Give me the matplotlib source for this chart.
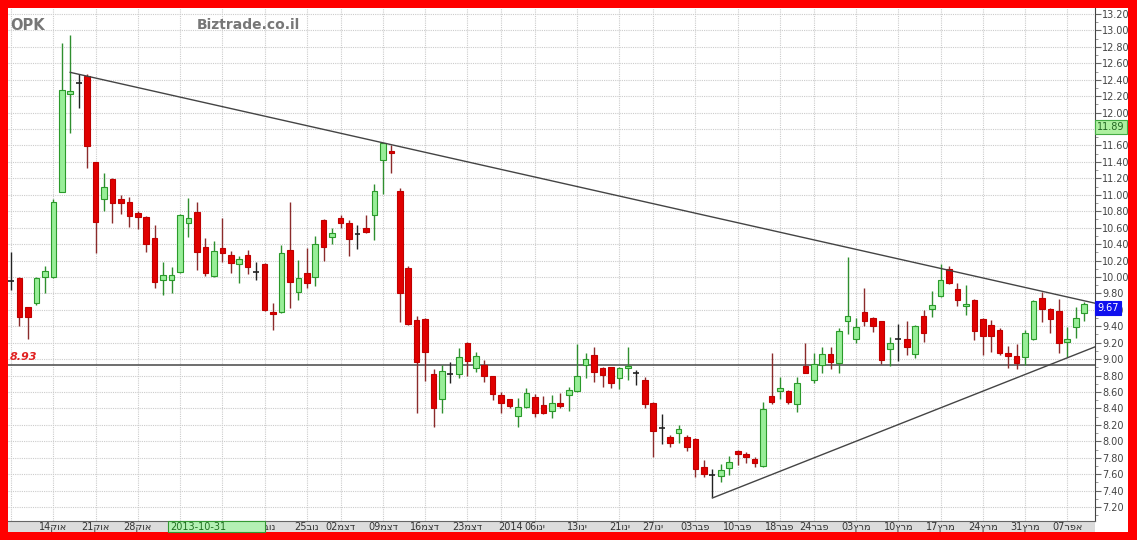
import numpy as np
import matplotlib
matplotlib.use("Agg")
import matplotlib.pyplot as plt
from matplotlib.patches import Rectangle

# OPK daily candles, 07 Oct 2013 .. 09 Apr 2014 (one entry per trading day)
opens = [9.95, 9.99, 9.63, 9.68, 10.00, 10.00, 11.03, 12.23, 12.36, 12.45,
         11.40, 10.95, 11.19, 10.95, 10.91, 10.78, 10.73, 10.47, 9.96, 9.96,
         10.06, 10.66, 10.79, 10.36, 10.01, 10.35, 10.27, 10.16, 10.27, 10.06,
         10.16, 9.57, 9.57, 10.33, 9.82, 10.05, 10.00, 10.69, 10.49, 10.72,
         10.66, 10.52, 10.60, 10.75, 11.42, 11.53, 11.05, 10.11, 9.48, 9.49,
         8.82, 8.51, 8.82, 8.82, 9.20, 8.89, 8.93, 8.79, 8.56, 8.51,
         8.31, 8.42, 8.54, 8.44, 8.37, 8.47, 8.56, 8.61, 8.93, 9.05,
         8.89, 8.90, 8.77, 8.89, 8.83, 8.75, 8.47, 8.16, 8.05, 8.10,
         8.05, 8.03, 7.69, 7.59, 7.58, 7.67, 7.88, 7.85, 7.78, 7.70,
         8.55, 8.61, 8.61, 8.45, 8.92, 8.75, 8.93, 9.06, 8.95, 9.46,
         9.24, 9.57, 9.50, 9.46, 9.12, 9.24, 9.24, 9.06, 9.52, 9.61,
         9.77, 10.10, 9.85, 9.65, 9.72, 9.49, 9.41, 9.36, 9.07, 9.04,
         9.03, 9.24, 9.74, 9.61, 9.58, 9.21, 9.39, 9.56]
highs = [10.30, 10.00, 9.64, 10.00, 10.13, 10.95, 12.85, 12.94, 12.47, 12.47,
         11.40, 11.27, 11.20, 11.00, 10.97, 10.80, 10.74, 10.63, 10.18, 10.12,
         10.77, 10.96, 10.91, 10.47, 10.44, 10.72, 10.31, 10.25, 10.33, 10.18,
         10.17, 9.68, 10.39, 10.91, 10.21, 10.35, 10.50, 10.71, 10.60, 10.75,
         10.69, 10.63, 10.75, 11.13, 11.63, 11.61, 11.08, 10.13, 9.52, 9.50,
         8.88, 8.93, 8.97, 9.13, 9.21, 9.09, 8.99, 8.80, 8.60, 8.52,
         8.53, 8.65, 8.57, 8.55, 8.56, 8.59, 8.66, 9.18, 9.07, 9.15,
         8.90, 8.91, 8.90, 9.15, 8.87, 8.78, 8.48, 8.33, 8.08, 8.20,
         8.08, 8.04, 7.77, 7.66, 7.72, 7.82, 7.90, 7.87, 7.81, 8.48,
         9.07, 8.78, 8.63, 8.78, 9.20, 9.07, 9.15, 9.15, 9.38, 10.24,
         9.50, 9.87, 9.51, 9.47, 9.27, 9.43, 9.46, 9.42, 9.60, 9.83,
         10.16, 10.13, 9.93, 9.90, 9.73, 9.50, 9.48, 9.38, 9.16, 9.18,
         9.35, 9.72, 9.82, 9.62, 9.73, 9.39, 9.63, 9.69]
lows = [9.84, 9.40, 9.24, 9.66, 9.80, 9.99, 11.03, 11.75, 12.06, 11.33,
        10.29, 10.80, 10.66, 10.77, 10.61, 10.58, 10.30, 9.87, 9.78, 9.80,
        10.05, 10.49, 10.08, 10.01, 10.00, 10.18, 10.05, 9.93, 10.04, 9.96,
        9.59, 9.35, 9.56, 9.62, 9.72, 9.87, 9.89, 10.19, 10.40, 10.60,
        10.25, 10.34, 10.53, 10.45, 11.01, 11.27, 9.45, 9.42, 8.34, 8.73,
        8.17, 8.34, 8.71, 8.77, 8.79, 8.84, 8.72, 8.50, 8.34, 8.40,
        8.17, 8.41, 8.30, 8.33, 8.28, 8.40, 8.37, 8.60, 8.77, 8.72,
        8.66, 8.65, 8.64, 8.75, 8.69, 8.40, 7.81, 7.97, 7.93, 7.98,
        7.88, 7.57, 7.57, 7.32, 7.50, 7.59, 7.71, 7.74, 7.69, 7.69,
        8.45, 8.51, 8.45, 8.36, 8.83, 8.71, 8.83, 8.88, 8.83, 9.31,
        9.20, 9.40, 9.33, 8.94, 8.92, 8.98, 9.05, 9.01, 9.21, 9.51,
        9.76, 9.91, 9.65, 9.54, 9.23, 9.05, 9.09, 9.05, 8.89, 8.88,
        8.93, 9.23, 9.45, 9.32, 9.08, 9.03, 9.26, 9.46]
closes = [9.95, 9.51, 9.51, 9.99, 10.07, 10.91, 12.27, 12.26, 12.36, 11.59,
          10.67, 11.09, 10.90, 10.90, 10.74, 10.73, 10.40, 9.94, 10.02, 10.02,
          10.75, 10.72, 10.30, 10.05, 10.32, 10.29, 10.17, 10.22, 10.12, 10.06,
          9.60, 9.55, 10.29, 9.94, 9.99, 9.93, 10.40, 10.36, 10.53, 10.66,
          10.46, 10.52, 10.55, 11.05, 11.63, 11.51, 9.80, 9.43, 8.97, 9.09,
          8.40, 8.86, 8.82, 9.03, 8.98, 9.04, 8.79, 8.58, 8.47, 8.43,
          8.42, 8.59, 8.34, 8.34, 8.47, 8.43, 8.63, 8.79, 9.00, 8.84,
          8.81, 8.71, 8.89, 8.92, 8.83, 8.45, 8.13, 8.16, 7.98, 8.15,
          7.93, 7.66, 7.60, 7.59, 7.65, 7.75, 7.85, 7.81, 7.74, 8.39,
          8.48, 8.65, 8.48, 8.71, 8.83, 8.94, 9.06, 8.97, 9.34, 9.52,
          9.39, 9.46, 9.40, 8.99, 9.20, 9.24, 9.15, 9.40, 9.32, 9.66,
          9.96, 9.93, 9.72, 9.67, 9.34, 9.28, 9.28, 9.07, 9.04, 8.95,
          9.32, 9.71, 9.61, 9.49, 9.20, 9.24, 9.50, 9.67]

# week-start ticks (trading-day index) and their labels
tick_pos = [5, 10, 15, 20, 25, 30, 35, 39, 44, 49, 54, 62, 67, 72, 76,
            81, 86, 91, 95, 100, 105, 110, 115, 120, 125]
tick_labels = ["14קוא", "21קוא", "28קוא", "04בונ", "11בונ", "18בונ", "25בונ",
               "02מצד", "09מצד", "16מצד", "23מצד", "06וני", "13וני", "21וני",
               "27וני", "03רבפ", "10רבפ", "18רבפ", "24רבפ", "03ץרמ", "10ץרמ",
               "17ץרמ", "24ץרמ", "31ץרמ", "07רפא"]
extra_grid = [0, 58]

# drawn lines: resistance, support, level
upper_x, upper_y = [7, 128.3], [12.49, 9.68]
lower_x, lower_y = [83, 128.3], [7.31, 9.15]
level = 8.93
cross_price = 11.89

W, H = 1137, 540
fig = plt.figure(figsize=(W / 100, H / 100), dpi=100, facecolor="#ff0000")
fig.patches.append(Rectangle((8 / W, 8 / H), 1120 / W, 524 / H, transform=fig.transFigure,
                             facecolor="white", edgecolor="none", zorder=-10))
fig.patches.append(Rectangle((8 / W, 8 / H), 1087 / W, 11 / H, transform=fig.transFigure,
                             facecolor="#dcdcdc", edgecolor="none", zorder=-9))

ax = fig.add_axes([8 / W, 19 / H, 1087 / W, 513 / H])
ax.set_facecolor("none")

o = np.array(opens); h = np.array(highs); l = np.array(lows); c = np.array(closes)
x = np.arange(len(o))
up = c > o + 0.005
down = c < o - 0.005
doji = ~(up | down)

ax.vlines(x[up], l[up], h[up], color="#2f8f2f", lw=1, zorder=3)
ax.vlines(x[down], l[down], h[down], color="#8b2b2b", lw=1, zorder=3)
ax.vlines(x[doji], l[doji], h[doji], color="#222222", lw=1, zorder=3)
ax.bar(x[up], c[up] - o[up], bottom=o[up], width=0.66, color="#98ee98",
       edgecolor="#2a9a2a", lw=0.8, zorder=4)
ax.bar(x[down], o[down] - c[down], bottom=c[down], width=0.66, color="#e00000",
       edgecolor="#c00000", lw=0.8, zorder=4)
ax.hlines(o[doji], x[doji] - 0.35, x[doji] + 0.35, color="#222222", lw=1.2, zorder=4)

ax.plot(upper_x, upper_y, color="#444444", lw=1, zorder=5)
ax.plot(lower_x, lower_y, color="#444444", lw=1, zorder=5)
ax.axhline(level, color="#555555", lw=1.2, zorder=2)
ax.text(0.002, level + 0.04, f"{level:.2f}", transform=ax.get_yaxis_transform(),
        color="#e02020", fontsize=8, fontstyle="italic", fontweight="bold", va="bottom")

ax.set_xlim(-0.36, 128.28)
ax.set_ylim(7.03, 13.273)

ax.set_xticks(tick_pos)
ax.set_xticklabels(tick_labels)
ax.tick_params(axis="x", length=0, pad=1, labelsize=7, labelcolor="#333333")
ax.yaxis.tick_right()
ax.set_yticks(np.arange(7.2, 13.21, 0.2))
ax.set_yticks(np.arange(7.1, 13.25, 0.2), minor=True)
ax.yaxis.set_major_formatter(matplotlib.ticker.FormatStrFormatter("%.2f"))
ax.tick_params(axis="y", which="major", length=4, color="#666666", pad=1,
               labelsize=7, labelcolor="#444444")
ax.tick_params(axis="y", which="minor", length=2, color="#888888")

ax.grid(True, which="major", color="#cccccc", linestyle=(0, (1, 1)), lw=0.8, zorder=0)
for gx in extra_grid:
    ax.axvline(gx, color="#cccccc", linestyle=(0, (1, 1)), lw=0.8, zorder=0)
ax.set_axisbelow(True)

for side in ["left", "top"]:
    ax.spines[side].set_visible(False)
ax.spines["right"].set_color("#444444")
ax.spines["bottom"].set_color("#666666")

# year marker sits right before the first January label
ax.text(60.6, -0.0027, "2014", transform=ax.get_xaxis_transform(), ha="right", va="top",
        fontsize=7, color="#333333")

ax.annotate(f"{cross_price:.2f}", xy=(1, cross_price - 0.06), xycoords=("axes fraction", "data"),
            xytext=(1.5, 0), textcoords="offset points", ha="left", va="center", fontsize=7,
            color="#226622", annotation_clip=False, zorder=10,
            bbox=dict(boxstyle="square,pad=0.2", fc="#aef0a0", ec="#44aa44", lw=0.8))
ax.annotate(f"{closes[-1]:.2f}", xy=(1, closes[-1] - 0.05), xycoords=("axes fraction", "data"),
            xytext=(1.5, 0), textcoords="offset points", ha="left", va="center", fontsize=7,
            color="white", annotation_clip=False, zorder=10,
            bbox=dict(boxstyle="square,pad=0.2", fc="#1010ee", ec="#1010ee", lw=0.8))

# crosshair date box in the time axis
fig.patches.append(Rectangle((168 / W, 8 / H), 97 / W, 11 / H, transform=fig.transFigure,
                             facecolor="#b4f0b4", edgecolor="#339933", lw=0.8, zorder=5))
fig.text(170 / W, 13.5 / H, "2013-10-31", fontsize=7, color="#1f6f1f", va="center", zorder=6)

fig.text(10 / W, (540 - 25) / H, "OPK", fontsize=10.5, fontweight="bold", color="#777777", va="center")
fig.text(197 / W, (540 - 25) / H, "Biztrade.co.il", fontsize=10, fontweight="bold",
         color="#777777", va="center")

fig.savefig("out.png", dpi=100, facecolor=fig.get_facecolor())
